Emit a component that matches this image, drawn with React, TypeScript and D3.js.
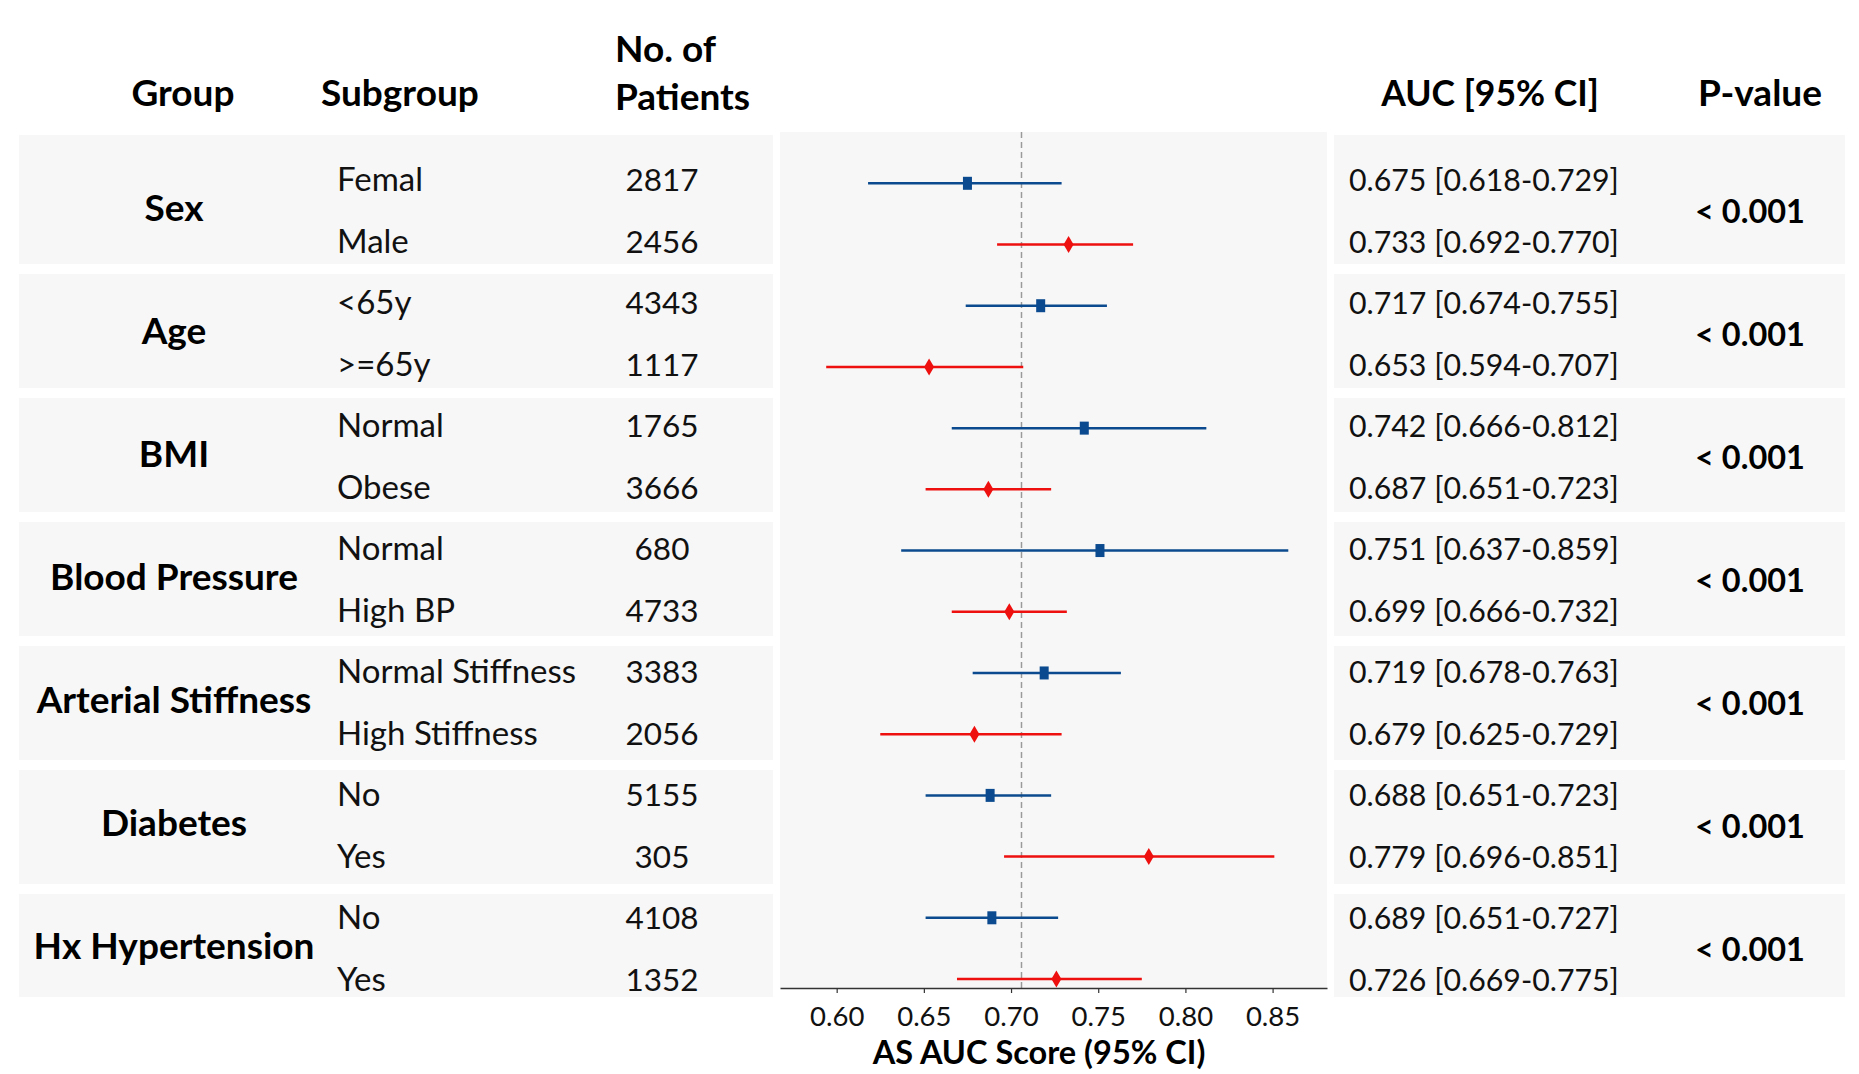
import { useEffect, useRef } from "react"
import * as d3 from "d3"

const groups = [
  "Sex",
  "Age",
  "BMI",
  "Blood Pressure",
  "Arterial Stiffness",
  "Diabetes",
  "Hx Hypertension",
]
const subgroups = [
  "Femal", "Male",
  "<65y", ">=65y",
  "Normal", "Obese",
  "Normal", "High BP",
  "Normal Stiffness", "High Stiffness",
  "No", "Yes",
  "No", "Yes",
]
const patients = [2817, 2456, 4343, 1117, 1765, 3666, 680, 4733, 3383, 2056, 5155, 305, 4108, 1352]
const auc = [0.675, 0.733, 0.717, 0.653, 0.742, 0.687, 0.751, 0.699, 0.719, 0.679, 0.688, 0.779, 0.689, 0.726]
const ciLower = [0.618, 0.692, 0.674, 0.594, 0.666, 0.651, 0.637, 0.666, 0.678, 0.625, 0.651, 0.696, 0.651, 0.669]
const ciUpper = [0.729, 0.77, 0.755, 0.707, 0.812, 0.723, 0.859, 0.732, 0.763, 0.729, 0.723, 0.851, 0.727, 0.775]
const pValues = ["< 0.001", "< 0.001", "< 0.001", "< 0.001", "< 0.001", "< 0.001", "< 0.001"]
const xTicks = [0.6, 0.65, 0.7, 0.75, 0.8, 0.85]
const refAuc = 0.706

const W = 1859
const H = 1074
const FONT = "Lato, 'Open Sans', sans-serif"
const PANEL_BG = "#f7f7f7"
const BLUE = "#0b4a8e"
const RED = "#ee0f0f"

const App = () => {
  const svgRef = useRef<SVGSVGElement | null>(null)

  useEffect(() => {
    const svg = d3.select(svgRef.current)
    svg.selectAll("*").remove()
    svg.style("font-family", FONT)

    const rows = d3.range(subgroups.length)

    // row positions: marks in the plot, and the table text beside it
    const y = d3.scalePoint<number>().domain(rows).range([183.3, 979])
    const yText = d3.scalePoint<number>().domain(rows).range([180, 980])
    const pairCenter = (g: number) => ((yText(2 * g) as number) + (yText(2 * g + 1) as number)) / 2

    // AUC scale
    const x = d3.scaleLinear().domain([0.5675, 0.8812]).range([780, 1327])

    // background bands, one per group
    const band = d3.scaleBand().domain(groups).range([150, 1008]).paddingInner(10 / 124)
    const bandTop = (g: number) => (g === 0 ? 135 : (band(groups[g]) as number))
    const bandBottom = (g: number) => Math.min((band(groups[g]) as number) + band.bandwidth(), 997)

    const bg = svg.append("g")
    groups.forEach((_, g) => {
      bg.append("rect")
        .attr("x", 19)
        .attr("y", bandTop(g))
        .attr("width", 754)
        .attr("height", bandBottom(g) - bandTop(g))
        .attr("fill", PANEL_BG)
      bg.append("rect")
        .attr("x", 1334)
        .attr("y", bandTop(g))
        .attr("width", 511)
        .attr("height", bandBottom(g) - bandTop(g))
        .attr("fill", PANEL_BG)
    })
    const plotTop = 132
    const plotBottom = 988
    bg.append("rect")
      .attr("x", x.range()[0])
      .attr("y", plotTop)
      .attr("width", x.range()[1] - x.range()[0])
      .attr("height", plotBottom - plotTop)
      .attr("fill", PANEL_BG)

    // Headers
    const header = svg.append("g").attr("font-weight", "bold").attr("font-size", 37).attr("fill", "#000")
    header.append("text").attr("x", 183).attr("y", 106).attr("text-anchor", "middle").text("Group")
    header.append("text").attr("x", 321).attr("y", 106).text("Subgroup")
    header.append("text").attr("x", 615).attr("y", 62).text("No. of")
    header.append("text").attr("x", 615).attr("y", 110).text("Patients")
    header.append("text").attr("x", 1490).attr("y", 106).attr("text-anchor", "middle")
      .attr("font-size", 35.5).text("AUC [95% CI]")
    header.append("text").attr("x", 1760).attr("y", 106).attr("text-anchor", "middle").text("P-value")

    // Group labels + p-values
    svg.append("g")
      .selectAll("text")
      .data(groups)
      .enter()
      .append("text")
      .attr("x", 174)
      .attr("y", (_, g) => pairCenter(g) + 10)
      .attr("text-anchor", "middle")
      .attr("font-weight", "bold")
      .attr("font-size", 37)
      .text((d) => d)

    svg.append("g")
      .selectAll("text")
      .data(pValues)
      .enter()
      .append("text")
      .attr("x", 1750)
      .attr("y", (_, g) => pairCenter(g) + 12)
      .attr("text-anchor", "middle")
      .attr("font-weight", "bold")
      .attr("font-size", 32.5)
      .text((d) => d)

    // Row texts
    const rowText = svg.append("g").attr("fill", "#111")
    rowText.selectAll(".sub")
      .data(rows)
      .enter()
      .append("text")
      .attr("class", "sub")
      .attr("x", 337)
      .attr("y", (i) => (yText(i) as number) + 11)
      .attr("font-size", 33)
      .text((i) => subgroups[i])
    rowText.selectAll(".num")
      .data(rows)
      .enter()
      .append("text")
      .attr("class", "num")
      .attr("x", 662)
      .attr("y", (i) => (yText(i) as number) + 11)
      .attr("text-anchor", "middle")
      .attr("font-size", 31.5)
      .text((i) => patients[i])
    rowText.selectAll(".auc")
      .data(rows)
      .enter()
      .append("text")
      .attr("class", "auc")
      .attr("x", 1349)
      .attr("y", (i) => (yText(i) as number) + 11)
      .attr("font-size", 30.3)
      .text((i) => `${auc[i].toFixed(3)} [${ciLower[i].toFixed(3)}-${ciUpper[i].toFixed(3)}]`)

    // Reference line
    svg.append("line")
      .attr("x1", x(refAuc))
      .attr("x2", x(refAuc))
      .attr("y1", plotTop)
      .attr("y2", plotBottom)
      .attr("stroke", "#9a9a9a")
      .attr("stroke-width", 1.5)
      .attr("stroke-dasharray", "6,4")

    // CI lines
    const color = (i: number) => (i % 2 === 0 ? BLUE : RED)
    svg.append("g")
      .selectAll("line")
      .data(rows)
      .enter()
      .append("line")
      .attr("x1", (i) => x(ciLower[i]))
      .attr("x2", (i) => x(ciUpper[i]))
      .attr("y1", (i) => y(i) as number)
      .attr("y2", (i) => y(i) as number)
      .attr("stroke", color)
      .attr("stroke-width", 2.5)

    // Markers: squares for first subgroup, diamonds for second
    const marks = svg.append("g")
    marks.selectAll("rect")
      .data(rows.filter((i) => i % 2 === 0))
      .enter()
      .append("rect")
      .attr("x", (i) => x(auc[i]) - 4.5)
      .attr("y", (i) => (y(i) as number) - 6.5)
      .attr("width", 9)
      .attr("height", 13)
      .attr("fill", BLUE)
    marks.selectAll("path")
      .data(rows.filter((i) => i % 2 === 1))
      .enter()
      .append("path")
      .attr("d", (i) => {
        const cx = x(auc[i])
        const cy = y(i) as number
        return `M${cx},${cy - 8.5}L${cx + 5},${cy}L${cx},${cy + 8.5}L${cx - 5},${cy}Z`
      })
      .attr("fill", RED)

    // Axis
    const axis = svg.append("g")
      .attr("transform", `translate(0,${plotBottom})`)
      .call(d3.axisBottom(x).tickValues(xTicks).tickFormat(d3.format(".2f")).tickSize(5).tickSizeOuter(0))
    axis.select(".domain").attr("stroke", "#333").attr("stroke-width", 1.5)
    axis.selectAll(".tick line").attr("stroke", "#333").attr("stroke-width", 1.2)
    axis.selectAll(".tick text")
      .attr("y", 18)
      .attr("font-size", 27.5)
      .attr("font-family", FONT)
      .attr("fill", "#111")

    svg.append("text")
      .attr("x", 1039)
      .attr("y", 1064)
      .attr("text-anchor", "middle")
      .attr("font-weight", "bold")
      .attr("font-size", 32.5)
      .text("AS AUC Score (95% CI)")
  }, [])

  return (
    <div style={{ position: "absolute", left: 0, top: 0, background: "#fff" }}>
      <svg ref={svgRef} width={W} height={H} style={{ display: "block" }} />
    </div>
  )
}

export default App
